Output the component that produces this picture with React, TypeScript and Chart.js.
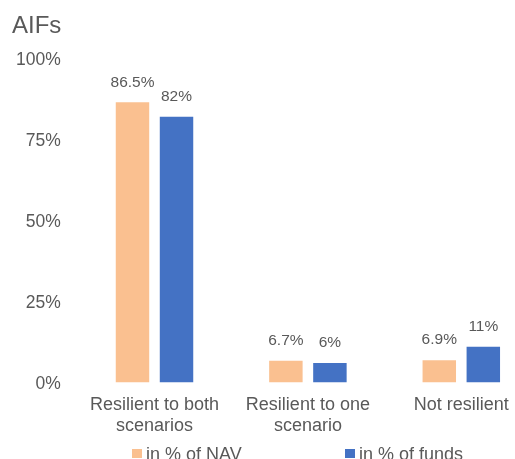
import React, { useEffect, useRef } from "react";
import { Chart, registerables } from "chart.js";

Chart.register(...registerables);

const categories: string[][] = [
  ["Resilient to both", "scenarios"],
  ["Resilient to one", "scenario"],
  ["Not resilient"],
];
const navValues = [86.5, 6.7, 6.9];
const fundValues = [82, 6, 11];
const navLabels = ["86.5%", "6.7%", "6.9%"];
const fundLabels = ["82%", "6%", "11%"];
const seriesNames = ["in % of NAV", "in % of funds"];
const yTicks = [0, 25, 50, 75, 100];
const titleText = "AIFs";

const ORANGE = "#FAC090";
const BLUE = "#4472C4";
const TEXT = "#595959";
const FONT = "'Liberation Sans', Arial, sans-serif";

const extrasPlugin = {
  id: "extras",
  afterDatasetsDraw(chart: any) {
    const ctx = chart.ctx;
    ctx.save();
    // data labels
    const lbls = [navLabels, fundLabels];
    ctx.fillStyle = TEXT;
    ctx.font = `15.5px ${FONT}`;
    ctx.textAlign = "center";
    ctx.textBaseline = "middle";
    chart.data.datasets.forEach((_: any, di: number) => {
      const meta = chart.getDatasetMeta(di);
      meta.data.forEach((bar: any, i: number) => {
        ctx.fillText(lbls[di][i], bar.x, bar.y - 20);
      });
    });
    // title
    ctx.font = `24px ${FONT}`;
    ctx.textAlign = "left";
    ctx.textBaseline = "alphabetic";
    ctx.fillText(titleText, 12, 33);
    // legend
    const colors = [ORANGE, BLUE];
    const xs = [132, 345];
    ctx.font = `18px ${FONT}`;
    ctx.textBaseline = "alphabetic";
    seriesNames.forEach((name, i) => {
      ctx.fillStyle = colors[i];
      ctx.fillRect(xs[i], 449, 10, 9);
      ctx.fillStyle = TEXT;
      ctx.fillText(name, xs[i] + 14, 460);
    });
    ctx.restore();
  },
};

export default function App() {
  const ref = useRef<HTMLCanvasElement>(null);
  useEffect(() => {
    if (!ref.current) return;
    const chart = new Chart(ref.current, {
      type: "bar",
      data: {
        labels: categories,
        datasets: [
          {
            label: seriesNames[0],
            data: navValues,
            backgroundColor: ORANGE,
            categoryPercentage: 0.574,
            barPercentage: 0.76,
          },
          {
            label: seriesNames[1],
            data: fundValues,
            backgroundColor: BLUE,
            categoryPercentage: 0.574,
            barPercentage: 0.76,
          },
        ],
      },
      options: {
        responsive: false,
        animation: false,
        layout: { padding: { top: 58.5, left: 0, right: 0, bottom: 0 } },
        plugins: {
          legend: { display: false },
          title: { display: false },
          tooltip: { enabled: false },
        },
        scales: {
          x: {
            grid: { display: false, drawTicks: false },
            border: { display: false },
            ticks: {
              color: TEXT,
              font: { family: FONT, size: 18, lineHeight: 1.17 },
              padding: 12,
              maxRotation: 0,
              autoSkip: false,
            },
            afterFit: (s: any) => {
              s.height = 76.5;
            },
          },
          y: {
            min: 0,
            max: 100,
            afterBuildTicks: (s: any) => {
              s.ticks = yTicks.map((v) => ({ value: v }));
            },
            grid: { display: false, drawTicks: false },
            border: { display: false },
            ticks: {
              color: TEXT,
              font: { family: FONT, size: 17.5 },
              padding: 17,
              labelOffset: 2,
              callback: (v: any) => `${v}%`,
            },
            afterFit: (s: any) => {
              s.width = 77.8;
            },
          },
        },
      },
      plugins: [extrasPlugin],
    });
    return () => chart.destroy();
  }, []);
  return (
    <div
      style={{
        position: "fixed",
        left: 0,
        top: 0,
        width: 515,
        height: 459,
        overflow: "hidden",
        background: "#fff",
      }}
    >
      <canvas ref={ref} width={538} height={459} style={{ display: "block" }} />
    </div>
  );
}
